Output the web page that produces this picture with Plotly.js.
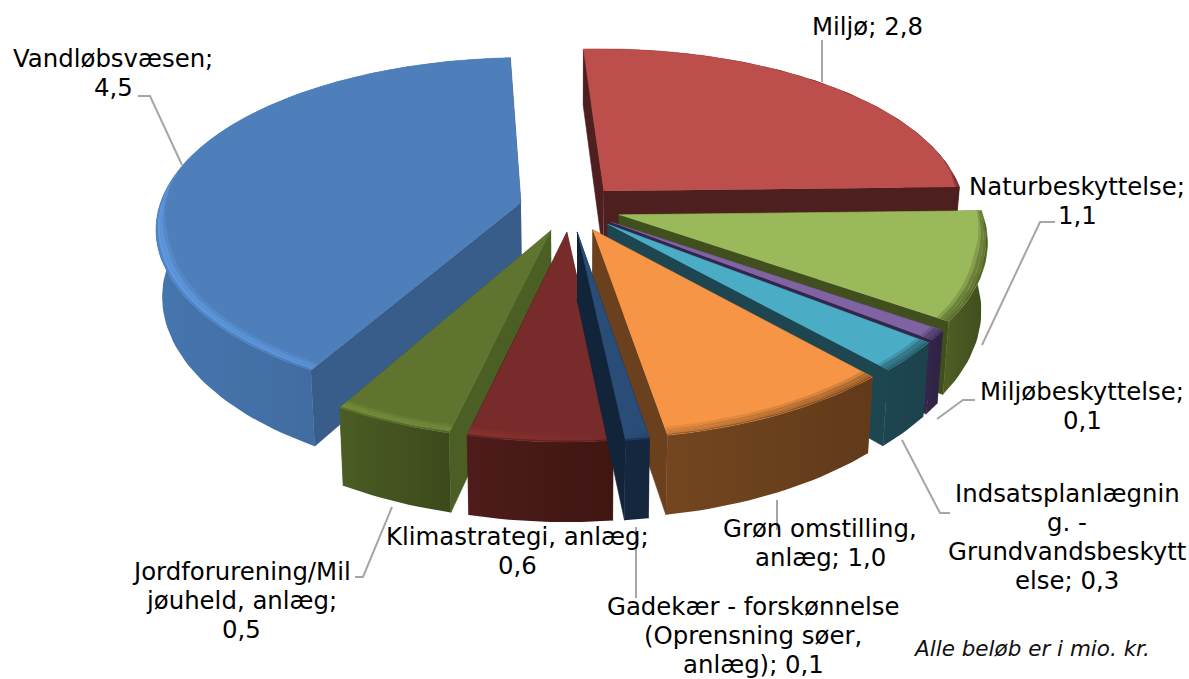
<!DOCTYPE html>
<html><head><meta charset="utf-8">
<script src="https://cdn.plot.ly/plotly-3.0.1.min.js"></script>
<style>html,body{margin:0;padding:0;background:#fff}</style></head>
<body><div id="chart" style="width:1189px;height:679px"></div>
<script>
// Data, in the chart's clockwise order
const categories = ['Miljø','Naturbeskyttelse','Miljøbeskyttelse','Indsatsplanlægning - Grundvandsbeskyttelse','Grøn omstilling, anlæg','Gadekær - forskønnelse (Oprensning søer, anlæg)','Klimastrategi, anlæg','Jordforurening/Miljøuheld, anlæg','Vandløbsvæsen'];
const values = [2.8,1.1,0.1,0.3,1.0,0.1,0.6,0.5,4.5];
const labels = ['Miljø; 2,8','Naturbeskyttelse;|1,1','Miljøbeskyttelse;|0,1','Indsatsplanlægnin|g. -|Grundvandsbeskytt|else; 0,3','Grøn omstilling,|anlæg; 1,0','Gadekær - forskønnelse|(Oprensning søer,|anlæg); 0,1','Klimastrategi, anlæg;|0,6','Jordforurening/Mil|jøuheld, anlæg;|0,5','Vandløbsvæsen;|4,5'];
const note = 'Alle beløb er i mio. kr.';

// Styles
const topColors  = ['#BC4E4C','#9AB95A','#8064A2','#4BACC6','#F59545','#2A4D78','#772B2A','#5F752F','#4E7FBA'];
const sideColors = ['#4E1F1F','#414F1E','#33264A','#1E4650','#6B401C','#12243A','#4E1C1B','#4B5E23','#385D8A'];
const rimLeft    = ['#4E1F1F','#4F5F24','#33264A','#1E4650','#73461F','#14273F','#4E1C1B','#4B5C24','#4676AF'];
const rimRight   = ['#4E1F1F','#3F4C1D','#2E2343','#1C424C','#623A1A','#14273F','#3F1512','#3C491C','#3A608F'];
// Draw order, back to front
const drawOrder = [0,8,1,2,3,4,7,6,5];
// Label layout: centre x and first-line y, then leader-line paths
const labelX = [867,1077,1082,1067,820,753,517,241,113];
const labelY = [26,186,391,493,528,606,536,571,58];
const lineGap = 29;
const leaders = [
 [[822,40],[822,82]],
 [[1055,222],[1040,222],[982,345]],
 [[975,400],[963,400],[937,419]],
 [[902,440],[940,513],[950,513]],
 [[777,500],[777,530]],
 [[636,527],[636,598]],
 [[392,507],[363,577],[355,577]],
 [[138,96],[150,96],[182,165]]
];

// Projection of the tilted pie
const cam = {cx:570, cy:208, R:362, A:169, k:0.155, kx:0.14, depth:66, pull:0.14, start:-3, squeeze:0.015};
function proj(X,V,z){
  const s = 1/(1-cam.k*V), sx = 1/(1-cam.kx*V);
  let x = cam.cx + cam.R*X*sx;
  const y = cam.cy + cam.A*V*s + z*cam.depth*s;
  x = cam.cx + (x-cam.cx)*(1-cam.squeeze*z);
  return [x,y];
}
const rad = d => d*Math.PI/180;
const total = values.reduce((a,b)=>a+b,0);
function rgb(c){return c[0]==='#'?[1,3,5].map(i=>parseInt(c.substr(i,2),16)):c.match(/\d+/g).map(Number);}
function css(a){return 'rgb('+a.map(v=>Math.max(0,Math.min(255,Math.round(v)))).join(',')+')';}
function mix(c,d,t){const a=rgb(c),b=rgb(d);return css(a.map((v,i)=>v+(b[i]-v)*t));}
function poly(pts,color,grad){
  const tr = {type:'scatter',mode:'lines',x:pts.map(p=>p[0]),y:pts.map(p=>p[1]),fill:'toself',
    line:{width:grad?0:0.6,color:color},fillcolor:color,hoverinfo:'skip',showlegend:false};
  if(grad){tr.fillgradient={type:'horizontal',colorscale:[[0,grad[0]],[1,grad[1]]]};}
  return tr;
}
// Bevel tone at a screen x: highlight to the left, shadow to the right
function bevel(top,side,x){
  const t=(x-155)/805;
  if(t<0.58){ const f=1+0.2*Math.min(1,(0.58-t)/0.25); return css(rgb(top).map(v=>v*f)); }
  return mix(top,side,Math.min(1,(t-0.58)/0.12)*0.6);
}
const traces=[];
let cum=0; const slices=values.map((v,i)=>{const a0=cam.start+cum/total*360;cum+=v;const a1=cam.start+cum/total*360;return {i,a0,a1};});
drawOrder.forEach(idx=>{
  const {i,a0,a1}=slices[idx];
  const m=rad((a0+a1)/2), pu=cam.pull*Math.sin(m), pv=-cam.pull*Math.cos(m);
  const P=(r,deg,z)=>proj(pu+r*Math.sin(rad(deg)),pv-r*Math.cos(rad(deg)),z);
  const n=Math.max(6,Math.ceil((a1-a0)/1.5));
  const arc=(rf,z,rev)=>{const o=[];for(let j=0;j<=n;j++){const d=a0+(a1-a0)*j/n;o.push(P(rf(d),d,z));}return rev?o.reverse():o;};
  const one=()=>1;
  // radial walls
  traces.push(poly([P(0,a0,0),P(1,a0,0),P(1,a0,1),P(0,a0,1)],sideColors[i]));
  traces.push(poly([P(0,a1,0),P(1,a1,0),P(1,a1,1),P(0,a1,1)],sideColors[i]));
  // rim wall
  traces.push(poly(arc(one,0,false).concat(arc(one,1,true)),rimLeft[i],[rimLeft[i],rimRight[i]]));
  // top face
  traces.push(poly([P(0,a0,0)].concat(arc(one,0,false)),topColors[i]));
  // bevel bands along the near rim
  const w=d=>0.034*Math.min(1,Math.max(0,(-Math.cos(rad(d))+0.2)/0.45));
  const xs=arc(one,0,false).map(p=>p[0]); const xl=Math.min(...xs), xr=Math.max(...xs);
  const bl=bevel(topColors[i],sideColors[i],xl), br=bevel(topColors[i],sideColors[i],xr);
  [[1,0.72,0.6],[0.72,0.42,0.15],[0.42,0.16,0],[0.16,0,-1]].forEach(b=>{
    const inner=d=>1-w(d)*b[0], outer=d=>1-w(d)*b[1];
    const cl = b[2]>=0 ? mix(bl,topColors[i],b[2]) : mix(bl,rimLeft[i],0.55);
    const cr = b[2]>=0 ? mix(br,topColors[i],b[2]) : mix(br,rimRight[i],0.55);
    traces.push(poly(arc(outer,0,false).concat(arc(inner,0,true)),cl,[cl,cr]));
  });
});
const shapes=leaders.map(p=>({type:'path',xref:'x',yref:'y',path:'M'+p.map(q=>q.join(',')).join('L'),line:{color:'#A6A6A6',width:2}}));
const annotations=[];
labels.forEach((t,i)=>t.split('|').forEach((line,j)=>annotations.push({xref:'x',yref:'y',x:labelX[i],y:labelY[i]+j*lineGap,text:line,showarrow:false,xanchor:'center',yanchor:'middle',font:{family:'DejaVu Sans',size:24.4,color:'#000'}})));
annotations.push({xref:'x',yref:'y',x:1031,y:648,text:'<i>'+note+'</i>',showarrow:false,xanchor:'center',yanchor:'middle',font:{family:'DejaVu Sans',size:21.5,color:'#111'}});
Plotly.newPlot('chart',traces,{width:1189,height:679,margin:{l:0,r:0,t:0,b:0},paper_bgcolor:'#fff',plot_bgcolor:'#fff',showlegend:false,
  xaxis:{range:[0,1189],visible:false,fixedrange:true},yaxis:{range:[679,0],visible:false,fixedrange:true},shapes,annotations},{displayModeBar:false,staticPlot:true});
</script></body></html>
